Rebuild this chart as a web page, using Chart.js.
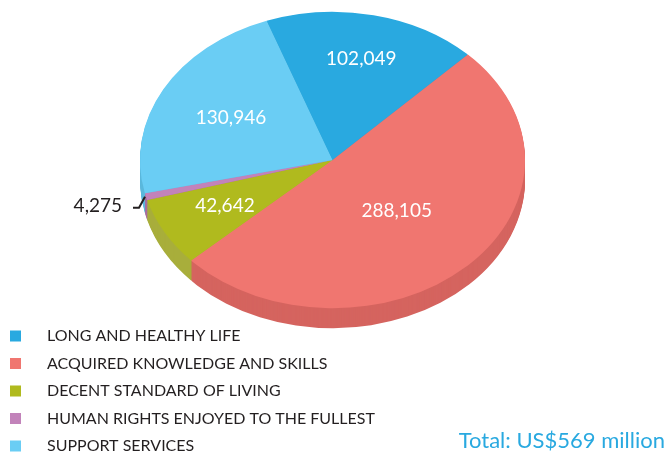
<!DOCTYPE html>
<html>
<head>
<meta charset="utf-8">
<title>Expenditure by goal</title>
<script src="https://cdn.jsdelivr.net/npm/chart.js@4.4.1/dist/chart.umd.min.js"></script>
<style>
  html, body { margin: 0; padding: 0; background: #fff; }
  #wrap { width: 669px; height: 454px; }
</style>
</head>
<body>
<div id="wrap"><canvas id="pieChart" width="669" height="454"></canvas></div>
<script>
const categories = [
  'LONG AND HEALTHY LIFE',
  'ACQUIRED KNOWLEDGE AND SKILLS',
  'DECENT STANDARD OF LIVING',
  'HUMAN RIGHTS ENJOYED TO THE FULLEST',
  'SUPPORT SERVICES'
];
const values = [102049, 288105, 42642, 4275, 130946];
const valueLabels = ['102,049', '288,105', '42,642', '4,275', '130,946'];
const totalLabel = 'Total: US$569 million';

const topColors = ['#29a9e0', '#f07670', '#b0ba1e', '#c283ba', '#6acdf4'];
const sideColors = ['#2196c8', '#d5645f', '#a8ae3b', '#a86ea0', '#5cb8dc'];

// where the tilted pie sits on the page
const CX = 332.5, CY = 160, RX = 192.5, TILT = 0.77, DEPTH = 20;
const labelRadius = [0.7, 0.48, 0.64, 1, 0.6];
const FONT = 'Lato, "Open Sans", sans-serif';

function tiltTo(ctx, arc, dy) {
  const s = RX / arc.outerRadius;
  ctx.translate(CX, CY + dy);
  ctx.scale(s, s * TILT);
  ctx.translate(-arc.x, -arc.y);
}

function toPage(arc, angle, frac) {
  const s = RX / arc.outerRadius;
  const r = arc.outerRadius * frac;
  return {
    x: CX + s * Math.cos(angle) * r,
    y: CY + s * TILT * Math.sin(angle) * r
  };
}

const tiltPlugin = {
  id: 'tilt',
  beforeDatasetsDraw(chart) {
    const ctx = chart.ctx;
    const arcs = chart.getDatasetMeta(0).data;
    // side wall: stack of darker copies pushed down
    for (let d = DEPTH; d > 0; d--) {
      ctx.save();
      tiltTo(ctx, arcs[0], d);
      arcs.forEach((a, i) => {
        ctx.beginPath();
        ctx.moveTo(a.x, a.y);
        ctx.arc(a.x, a.y, a.outerRadius, a.startAngle, a.endAngle);
        ctx.closePath();
        ctx.fillStyle = sideColors[i];
        ctx.fill();
      });
      ctx.restore();
    }
    ctx.save();
    tiltTo(ctx, arcs[0], 0);
  },
  afterDatasetsDraw(chart) {
    chart.ctx.restore();
  },
  afterDraw(chart) {
    const ctx = chart.ctx;
    const arcs = chart.getDatasetMeta(0).data;
    ctx.save();
    ctx.textBaseline = 'middle';

    arcs.forEach((a, i) => {
      const mid = (a.startAngle + a.endAngle) / 2;
      if (i === 3) {
        // small slice: label outside with a leader
        const p = toPage(a, mid, 1);
        ctx.strokeStyle = '#231f20';
        ctx.lineWidth = 2;
        ctx.beginPath();
        ctx.moveTo(p.x - 1, p.y);
        ctx.lineTo(p.x - 7, p.y + 11);
        ctx.lineTo(p.x - 13, p.y + 11);
        ctx.stroke();
        ctx.fillStyle = '#231f20';
        ctx.font = '19px ' + FONT;
        ctx.textAlign = 'right';
        ctx.fillText(valueLabels[i], p.x - 24, p.y + 9);
        return;
      }
      const p = toPage(a, mid, labelRadius[i]);
      ctx.fillStyle = '#ffffff';
      ctx.font = '19px ' + FONT;
      ctx.textAlign = 'center';
      ctx.fillText(valueLabels[i], p.x, p.y);
    });

    // legend
    ctx.textAlign = 'left';
    ctx.font = '16px ' + FONT;
    categories.forEach((c, i) => {
      const y = 336 + i * 27.5;
      ctx.fillStyle = topColors[i];
      ctx.fillRect(10, y - 5.5, 11, 11);
      ctx.fillStyle = '#231f20';
      ctx.fillText(c, 47, y);
    });

    // total
    ctx.textAlign = 'right';
    ctx.textBaseline = 'alphabetic';
    ctx.font = '22px ' + FONT;
    ctx.fillStyle = '#29a9e0';
    ctx.fillText(totalLabel, 665, 448);
    ctx.restore();
  }
};

new Chart(document.getElementById('pieChart'), {
  type: 'pie',
  data: {
    labels: categories,
    datasets: [{
      data: values,
      backgroundColor: topColors,
      borderWidth: 0,
      hoverOffset: 0,
      clip: false
    }]
  },
  options: {
    responsive: false,
    animation: false,
    rotation: -20,
    events: [],
    plugins: {
      legend: { display: false },
      tooltip: { enabled: false }
    }
  },
  plugins: [tiltPlugin]
});
</script>
</body>
</html>
